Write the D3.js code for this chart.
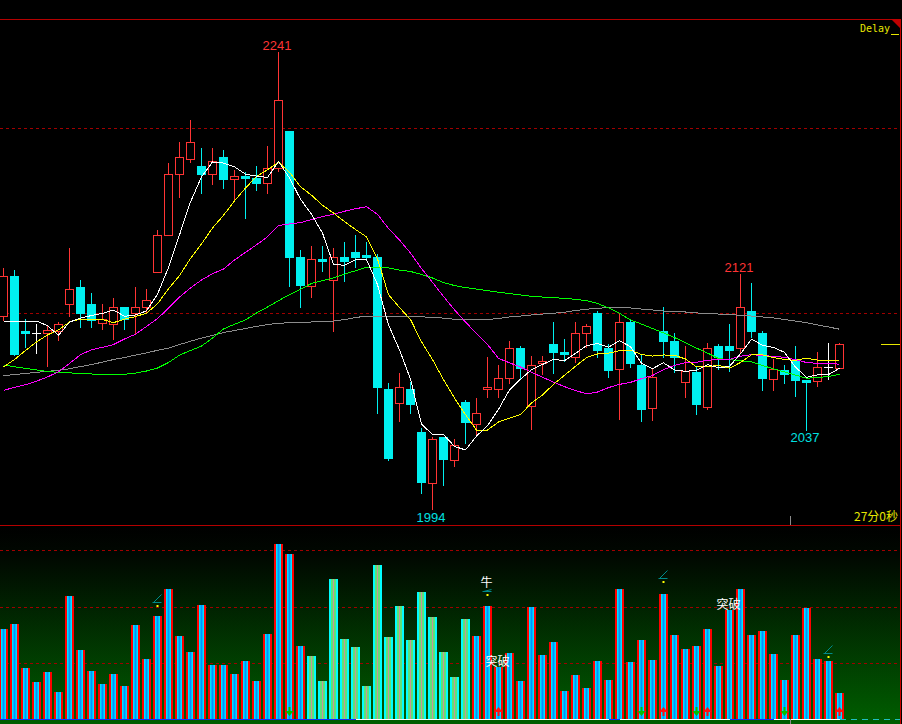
<!DOCTYPE html>
<html><head><meta charset="utf-8">
<script src="https://cdn.jsdelivr.net/npm/d3@7/dist/d3.min.js"></script>
<style>html,body{margin:0;padding:0;background:#000;overflow:hidden}</style>
</head><body><svg id="c" width="902" height="724"></svg>
<script>
// ---------- data ----------
const opens = [2098.7,2120.2,2090.6,2089.2,2089.2,2090.4,2104.9,2114.2,2105.0,2094.9,
2094.1,2103.4,2100.0,2103.2,2122.2,2142.2,2175.1,2183.2,2179.6,2175.1,
2184.5,2172.4,2174.2,2173.3,2170.3,2178.4,2198.5,2130.3,2114.9,2129.5,
2118.0,2130.3,2133.1,2131.5,2130.4,2059.1,2051.7,2058.9,2035.8,2008.4,
2033.1,2020.9,2052.2,2040.0,2058.9,2058.9,2064.9,2081.2,2049.7,2073.1,
2083.6,2079.2,2076.5,2089.2,2100.3,2081.1,2069.7,2095.3,2072.1,2048.6,
2090.4,2085.0,2062.7,2068.3,2049.5,2082.3,2082.3,2081.1,2101.2,2089.4,
2064.6,2069.4,2074.8,2063.9,2063.6,2071.0,2070.6];
const highs = [2124.3,2123.4,2096.9,2094.1,2093.1,2095.3,2135.1,2118.0,2110.8,2105.0,
2108.1,2103.4,2114.1,2113.0,2145.0,2181.1,2192.8,2204.5,2189.4,2189.4,
2188.3,2177.5,2176.5,2179.6,2190.4,2241,2198.5,2134.2,2136.4,2136.4,
2135.3,2138.5,2142.3,2138.5,2132.1,2062.5,2067.6,2063.0,2037.8,2033.3,
2033.1,2032.0,2053.1,2054.1,2076.2,2072.1,2085.0,2082.3,2076.9,2076.9,
2095.5,2085.9,2095.3,2094.2,2101.2,2083.4,2100.0,2096.8,2077.5,2070.4,
2103.6,2089.5,2082.3,2071.1,2083.8,2083.4,2094.2,2121,2116.2,2090.4,
2075.3,2071.9,2082.3,2063.9,2079.1,2083.8,2083.9];
const lows = [2096.4,2077.5,2081.9,2078.7,2071.5,2085.6,2098.5,2092.8,2092.8,2091.4,
2085.9,2091.7,2089.5,2100.0,2122.2,2142.2,2163.0,2181.9,2165.2,2169.9,
2167.9,2161.2,2151.4,2166.6,2165.2,2177.1,2114.8,2103.6,2109.0,2123.0,
2090.6,2117.3,2125.2,2128.8,2045.9,2020.7,2041.9,2045.9,2002.7,1994,
2007.2,2017.5,2029.7,2034.2,2054.9,2054.9,2062.2,2064.3,2037.6,2067.0,
2067.9,2074.4,2073.8,2081.9,2076.2,2065.7,2042.7,2070.8,2041.9,2042.3,
2076.2,2068.5,2054.9,2045.6,2048.4,2069.7,2069.0,2078.4,2087.4,2058.5,
2058.5,2062.5,2055.3,2037,2060.7,2064.6,2070.6];
const closes = [2120.0,2077.5,2088.8,2089.2,2091.0,2094.1,2113.0,2099.8,2096.0,2096.8,
2103.2,2096.2,2103.2,2107.0,2142.2,2175.1,2184.3,2192.4,2174.9,2182.2,
2172.2,2174.2,2172.4,2169.9,2178.5,2215.1,2130.0,2114.8,2129.2,2127.7,
2130.3,2127.7,2129.9,2129.9,2059.8,2021.4,2060.2,2050.6,2008.4,2032.0,
2020.7,2028.6,2040.9,2045.9,2060.2,2064.9,2081.1,2069.7,2071.9,2074.2,
2078.7,2077.6,2089.2,2093.0,2079.8,2069.0,2095.1,2072.8,2047.9,2065.7,
2084.6,2076.0,2069.0,2050.6,2081.1,2076.0,2079.8,2103.2,2090.1,2064.6,
2069.9,2066.6,2063.6,2062.5,2070.8,2071.0,2083.4];
const volumes = [1601,1690,907,658,836,480,2189,1228,854,623,
801,587,1673,1068,1833,2313,1477,1192,2028,961,
961,801,1032,676,1512,3114,2936,1299,1121,676,
2491,1423,1281,587,2740,1459,2011,1406,2260,1815,
1192,747,1779,1477,2011,930,1174,676,1993,1139,
1370,498,783,552,1032,694,2313,1014,1406,1050,
2224,1495,1246,1299,1601,943,1940,2313,1495,1566,
1157,694,1495,1975,1068,1032,463];
const ma5Lead = [2095.3,2095.3,2095.3,2095.8];
const ma10Lead = [2071.0,2075.0,2079.9,2084.5,2088.3,2091.0,2095.3,2096.8,2096.8];
const ma20Lead = [2058.3,2060.0,2061.4,2063.3,2065.6,2068.4,2072.9,2077.6,2080.3,2081.6,
2083.1,2086.1,2088.7,2092.9,2097.1,2102.8,2108.8,2113.7,2118.0];
// long averages
const maGreen = [2072.1,2071.1,2070.2,2069.4,2068.5,2068.1,2067.8,2067.5,2067.2,2067.0,
2067.0,2067.0,2067.7,2068.8,2070.4,2073.4,2077.4,2079.9,2082.3,2086.6,
2091.5,2094.1,2096.4,2100.2,2103.4,2106.8,2110.1,2113.0,2116.1,2117.7,
2119.2,2121.2,2123.0,2124.9,2125.0,2124.5,2123.4,2122.6,2121.0,2119.1,
2116.6,2115.0,2113.9,2113.1,2112.2,2111.4,2110.7,2109.9,2109.2,2108.8,
2108.5,2108.0,2107.6,2106.8,2105.3,2102.9,2100.0,2096.4,2094.2,2091.8,
2089.4,2086.9,2084.1,2081.2,2078.5,2075.6,2074.9,2074.4,2073.7,2071.8,
2070.0,2068.3,2066.6,2064.9,2065.3,2065.8,2067.0];
const maGray = [2066.3,2066.9,2067.5,2068.1,2068.6,2069.2,2070.0,2071.2,2072.3,2073.6,
2075.0,2076.1,2077.4,2078.6,2080.0,2081.2,2083.1,2084.9,2086.6,2088.0,
2089.6,2090.7,2091.8,2092.9,2093.9,2094.6,2094.9,2095.1,2095.3,2095.4,
2095.8,2096.6,2097.7,2098.5,2098.5,2098.4,2098.3,2098.2,2098.1,2097.8,
2097.4,2096.8,2096.4,2096.4,2096.6,2097.2,2098.0,2098.5,2099.1,2099.6,
2100.0,2100.6,2101.5,2102.2,2102.7,2103.1,2103.2,2102.9,2102.3,2101.8,
2101.2,2101.0,2100.7,2100.2,2099.9,2099.6,2099.2,2099.0,2098.5,2098.0,
2097.5,2096.6,2095.8,2094.9,2093.7,2092.6,2091.4];
const priceGrid = [2100, 2200];
const volGrid = [1000, 2000, 3000];
const altVolFrom = 28, altVolTo = 42;
const labelIndex = [25, 67, 39, 73];
const labelKind = ['H', 'H', 'L', 'L'];
const markIndex = [14, 44, 60, 75];
const markLevel = [2028, 2224, 2456, 1121];
const markSize = [8, 2, 8, 8];
const signalIndex = [44, 45, 66];
const signalText = ['牛', '突破', '突破'];
const signalLevel = [2438, 1032, 2046];
const downArrowIndex = [26, 58, 63, 71];
const upArrowIndex = [45, 60, 64, 76];
const baseState = 'BBBBBBBBBBBBBBBBBBBBBBBBBBBBBBBBBWWWWWWWWWWWWWWWWWWWWWWWBWWWWWWWWWWBBBBWWWWWW';
const timerText = '27分0秒';
const delayText = 'Delay';

// ---------- setup ----------
const n = closes.length;
const svg = d3.select('#c');
svg.append('rect').attr('width', 902).attr('height', 724).attr('fill', '#000');
const x = d3.scaleLinear().domain([0, n - 1]).range([3.5, 3.5 + 11 * (n - 1)]);
const y = d3.scaleLinear().domain(priceGrid).range([313.3, 128.3]);
const yv = d3.scaleLinear().domain([0, 3000]).range([719, 550.4]);
const ry = v => Math.round(y(v)) + 0.5;

const defs = svg.append('defs');
const bg = defs.append('linearGradient').attr('id', 'vbg').attr('x1', 0).attr('y1', 0).attr('x2', 0).attr('y2', 1);
[['0%', '#000000'], ['15%', '#010801'], ['100%', '#005e00']].forEach(s => bg.append('stop').attr('offset', s[0]).attr('stop-color', s[1]));
function hgrad(id, stops) {
  const g = defs.append('linearGradient').attr('id', id).attr('x1', 0).attr('y1', 0).attr('x2', 1).attr('y2', 0);
  stops.forEach(s => g.append('stop').attr('offset', s[0]).attr('stop-color', s[1]));
}
hgrad('vred', [[0, '#ff0000'], [0.22, '#ff0000'], [0.23, '#00f4ff'], [0.5, '#0090ff'], [0.77, '#00f4ff'], [0.78, '#ff0000'], [1, '#ff0000']]);
hgrad('valt', [[0, '#00ffff'], [0.22, '#00ffff'], [0.23, '#60e078'], [0.44, '#60e078'], [0.45, '#c89898'], [0.56, '#c89898'], [0.57, '#60e078'], [0.77, '#60e078'], [0.78, '#00ffff'], [1, '#00ffff']]);
defs.append('clipPath').attr('id', 'mainClip').append('rect').attr('x', 0).attr('y', 20).attr('width', 900).attr('height', 505);

// ---------- volume panel ----------
svg.append('rect').attr('x', 0).attr('y', 526).attr('width', 900).attr('height', 198).attr('fill', 'url(#vbg)');
svg.append('g').selectAll('line').data(volGrid).join('line')
  .attr('x1', 0).attr('x2', 900).attr('y1', d => Math.round(yv(d)) + 0.5).attr('y2', d => Math.round(yv(d)) + 0.5)
  .attr('stroke', '#a00000').attr('stroke-dasharray', '3,3').attr('shape-rendering', 'crispEdges');
svg.append('g').selectAll('rect').data(volumes).join('rect')
  .attr('x', (d, i) => x(i) - 4.5).attr('width', 9)
  .attr('y', d => Math.round(yv(d))).attr('height', d => 719 - Math.round(yv(d)))
  .attr('fill', (d, i) => (i >= altVolFrom && i <= altVolTo) ? 'url(#valt)' : 'url(#vred)')
  .attr('shape-rendering', 'crispEdges');
// base state line
const baseG = svg.append('g').attr('shape-rendering', 'crispEdges');
baseState.split('').forEach((s, i) => {
  baseG.append('line').attr('x1', i === 0 ? 0 : x(i - 1)).attr('x2', x(i)).attr('y1', 719.5).attr('y2', 719.5)
    .attr('stroke', s === 'B' ? '#1030ff' : '#ffffff').attr('stroke-width', 1.3);
});
baseG.append('line').attr('x1', x(n - 1)).attr('x2', 900).attr('y1', 719.5).attr('y2', 719.5)
  .attr('stroke', '#20c0c0').attr('stroke-dasharray', '6,5');
// arrows
svg.append('g').selectAll('path').data(downArrowIndex).join('path')
  .attr('d', i => { const c = x(i); return `M${c - 1},707 h2 v4 h3 l-4,5 l-4,-5 h3 z`; })
  .attr('fill', '#00c000');
svg.append('g').selectAll('path').data(upArrowIndex).join('path')
  .attr('d', i => { const c = x(i); return `M${c},707 l4,5 h-3 v4 h-2 v-4 h-3 z`; })
  .attr('fill', '#ff1010');
// teal marks with yellow dots
markIndex.forEach((i, k) => {
  const c = x(i), dy = Math.round(yv(markLevel[k]));
  svg.append('path').attr('d', `M${c - 5},${dy - 2.5} H${c + 4} M${c - 4},${dy - 2.5} L${c + 4},${dy - 2.5 - markSize[k]}`)
    .attr('stroke', '#008a8a').attr('fill', 'none').attr('stroke-width', 1);
  svg.append('rect').attr('x', c - 1).attr('y', dy).attr('width', 2).attr('height', 2).attr('fill', '#ffff00');
});
svg.append('g').selectAll('text').data(signalIndex).join('text')
  .attr('x', (i, k) => x(i) - 1).attr('y', (i, k) => yv(signalLevel[k]) + 5)
  .attr('text-anchor', 'middle').attr('fill', '#ffffff')
  .attr('font-family', '"Noto Sans CJK SC", sans-serif').attr('font-size', 12)
  .text((i, k) => signalText[k]);

// ---------- main panel ----------
const main = svg.append('g').attr('clip-path', 'url(#mainClip)');
main.append('g').selectAll('line').data(priceGrid).join('line')
  .attr('x1', 0).attr('x2', 900).attr('y1', d => ry(d)).attr('y2', d => ry(d))
  .attr('stroke', '#a00000').attr('stroke-dasharray', '3,3').attr('shape-rendering', 'crispEdges');

const RED = '#ff3434', CYAN = '#00f0f0', WHITE = '#ffffff';
const colorOf = i => closes[i] > opens[i] ? RED : (closes[i] < opens[i] ? CYAN : WHITE);
const cg = main.append('g').attr('shape-rendering', 'crispEdges');
const cs = cg.selectAll('g').data(d3.range(n)).join('g');
cs.append('line').attr('x1', i => x(i)).attr('x2', i => x(i))
  .attr('y1', i => Math.round(y(highs[i]))).attr('y2', i => Math.round(y(lows[i])) + 1)
  .attr('stroke', colorOf);
cs.each(function (i) {
  const g = d3.select(this), col = colorOf(i);
  if (col === RED) {
    const t = ry(closes[i]), b = ry(opens[i]);
    g.append('rect').attr('x', x(i) - 4).attr('width', 8).attr('y', t).attr('height', Math.max(1, b - t))
      .attr('fill', '#000').attr('stroke', RED);
  } else if (col === CYAN) {
    const t = Math.round(y(opens[i])), b = Math.round(y(closes[i]));
    g.append('rect').attr('x', x(i) - 4.5).attr('width', 9).attr('y', t).attr('height', Math.max(1, b - t)).attr('fill', CYAN);
  } else {
    g.append('line').attr('x1', x(i) - 4.5).attr('x2', x(i) + 4.5).attr('y1', ry(opens[i])).attr('y2', ry(opens[i])).attr('stroke', WHITE);
  }
});

function movingAverage(len, lead) {
  return closes.map((c, i) => i < len - 1 ? lead[i] : d3.mean(closes.slice(i - len + 1, i + 1)));
}
const lines = [
  [maGray, '#8c8c8c'], [maGreen, '#00ff00'],
  [movingAverage(20, ma20Lead), '#ff00ff'], [movingAverage(10, ma10Lead), '#ffff00'], [movingAverage(5, ma5Lead), '#ffffff']
];
const lineGen = d3.line().x((d, i) => x(i)).y(d => y(d));
main.append('g').selectAll('path').data(lines).join('path')
  .attr('d', d => lineGen(d[0])).attr('stroke', d => d[1]).attr('fill', 'none').attr('stroke-width', 1)
  .attr('shape-rendering', 'crispEdges');

// extreme labels
svg.append('g').selectAll('text').data(labelIndex).join('text')
  .attr('x', i => x(i) - 1.5)
  .attr('y', (i, k) => labelKind[k] === 'H' ? y(highs[i]) - 2 : y(lows[i]) + 12.5)
  .attr('text-anchor', 'middle')
  .attr('fill', (i, k) => labelKind[k] === 'H' ? '#ff3434' : '#00e0e0')
  .attr('font-family', '"Liberation Sans", Arial, sans-serif').attr('font-size', 13)
  .text((i, k) => Math.round(labelKind[k] === 'H' ? highs[i] : lows[i]));

// ---------- frame ----------
const frame = svg.append('g').attr('shape-rendering', 'crispEdges');
frame.append('line').attr('x1', 0).attr('x2', 900).attr('y1', 19.5).attr('y2', 19.5).attr('stroke', '#b40000');
frame.append('line').attr('x1', 0).attr('x2', 900).attr('y1', 525.5).attr('y2', 525.5).attr('stroke', '#b40000');
frame.append('line').attr('x1', 900.5).attr('x2', 900.5).attr('y1', 19).attr('y2', 724).attr('stroke', '#c80000');
svg.append('path').attr('d', 'M891,19 L901,19 L901,29 Z').attr('fill', '#c00000');
// last price marker
frame.append('line').attr('x1', 881).attr('x2', 900).attr('y1', ry(closes[n - 1])).attr('y2', ry(closes[n - 1])).attr('stroke', '#e8e800');
frame.append('line').attr('x1', 891).attr('x2', 899).attr('y1', 34.5).attr('y2', 34.5).attr('stroke', '#e8e800');
// cursor ticks
frame.append('line').attr('x1', 790.5).attr('x2', 790.5).attr('y1', 516).attr('y2', 525).attr('stroke', '#8c8c8c');
frame.append('line').attr('x1', 790.5).attr('x2', 790.5).attr('y1', 719).attr('y2', 724).attr('stroke', '#8c8c8c');
svg.append('text').attr('x', 860).attr('y', 32).attr('fill', '#e6e600')
  .attr('font-family', '"DejaVu Sans Mono", monospace').attr('font-size', 10).text(delayText);
svg.append('text').attr('x', 898).attr('y', 521).attr('text-anchor', 'end').attr('fill', '#e6e600')
  .attr('font-family', '"Noto Sans CJK SC", sans-serif').attr('font-size', 12).text(timerText);
</script></body></html>
